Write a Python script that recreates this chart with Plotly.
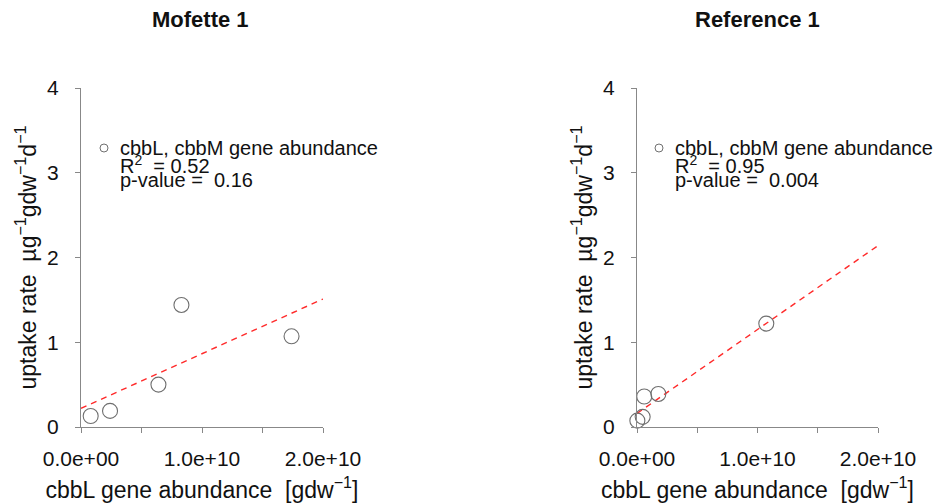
import plotly.graph_objects as go

# ---- data ----
panel_titles = ["Mofette 1", "Reference 1"]
mofette_x = [0.08e10, 0.24e10, 0.64e10, 0.83e10, 1.74e10]
mofette_y = [0.13, 0.19, 0.50, 1.44, 1.07]
reference_x = [0.003e10, 0.047e10, 0.06e10, 0.177e10, 1.073e10]
reference_y = [0.075, 0.12, 0.36, 0.39, 1.22]
fit_intercept = [0.22, 0.16]
fit_slope = [(1.51 - 0.22) / 2e10, (2.14 - 0.16) / 2e10]
fit_x_span = [0, 2e10]
r2_values = ["0.52", "0.95"]
p_values = ["0.16", "0.004"]
legend_label = "cbbL, cbbM gene abundance"
x_tickvals = [0, 0.5e10, 1.0e10, 1.5e10, 2.0e10]
x_ticktext = ["0.0e+00", "", "1.0e+10", "", "2.0e+10"]
y_tickvals = [0, 1, 2, 3, 4]

FONT = "Liberation Sans, Arial, sans-serif"
W, H = 934, 504

fig = go.Figure()

xs_all = [mofette_x, reference_x]
ys_all = [mofette_y, reference_y]
x_domains = [[81 / W, 323 / W], [637 / W, 878 / W]]
y_domain = [(H - 427) / H, (H - 88) / H]

for i in range(2):
    xa = "x" if i == 0 else "x2"
    ya = "y" if i == 0 else "y2"
    fx = fit_x_span
    fy = [fit_intercept[i] + fit_slope[i] * v for v in fx]
    fig.add_trace(go.Scatter(x=fx, y=fy, mode="lines", xaxis=xa, yaxis=ya,
                             line=dict(color="#ff2a2a", width=1.4, dash="6px,5px"),
                             showlegend=False, hoverinfo="skip"))
    fig.add_trace(go.Scatter(x=xs_all[i], y=ys_all[i], mode="markers", xaxis=xa, yaxis=ya,
                             marker=dict(symbol="circle-open", size=15, color="#6e6e6e",
                                         line=dict(width=1.1, color="#6e6e6e")),
                             showlegend=False, cliponaxis=False))

axis_common = dict(showgrid=False, zeroline=False, showline=True, linecolor="#888888",
                   linewidth=1, ticks="outside", tickcolor="#888888", automargin=False,
                   ticklen=5, tickfont=dict(family=FONT, size=21, color="#111"))

xtitle = "cbbL gene abundance  [gdw<sup>−1</sup>]"
ytitle = "uptake rate  µg<sup>−1</sup>gdw<sup>−1</sup>d<sup>−1</sup>"
tfont = dict(family=FONT, size=23, color="#111")

fig.update_layout(
    width=W, height=H, paper_bgcolor="white", plot_bgcolor="white",
    margin=dict(l=0, r=0, t=0, b=0, autoexpand=False),
    xaxis=dict(domain=x_domains[0], range=[0, 2e10], anchor="y", tickvals=x_tickvals,
               ticktext=x_ticktext, ticklabelstandoff=8,
               title=dict(text=xtitle, standoff=12, font=tfont), **axis_common),
    yaxis=dict(domain=y_domain, range=[0, 4], anchor="x", tickvals=y_tickvals,
               ticklabelstandoff=12,
               title=dict(text=ytitle, standoff=4, font=tfont), **axis_common),
    xaxis2=dict(domain=x_domains[1], range=[0, 2e10], anchor="y2", tickvals=x_tickvals,
                ticktext=x_ticktext, ticklabelstandoff=8,
                title=dict(text=xtitle, standoff=12, font=tfont), **axis_common),
    yaxis2=dict(domain=y_domain, range=[0, 4], anchor="x2", tickvals=y_tickvals,
                ticklabelstandoff=12,
                title=dict(text=ytitle, standoff=4, font=tfont), **axis_common),
    showlegend=False,
)

title_x = [200, 757]
legend_marker_x = [104, 659]
legend_text_x = [118, 673]
ann = []
for i in range(2):
    ann.append(dict(text="<b>" + panel_titles[i] + "</b>", x=title_x[i] / W, y=(H - 20) / H,
                    xref="paper", yref="paper", showarrow=False, xanchor="center", yanchor="middle",
                    font=dict(family=FONT, size=22, color="#111")))
    ann.append(dict(text=legend_label, x=legend_text_x[i] / W, y=(H - 148) / H,
                    xref="paper", yref="paper", showarrow=False, xanchor="left", yanchor="middle",
                    font=dict(family=FONT, size=20, color="#111")))
    ann.append(dict(text="R<sup>2</sup>  = " + r2_values[i], x=legend_text_x[i] / W, y=(H - 165) / H,
                    xref="paper", yref="paper", showarrow=False, xanchor="left", yanchor="middle",
                    font=dict(family=FONT, size=20, color="#111")))
    ann.append(dict(text="p-value =  " + p_values[i], x=legend_text_x[i] / W, y=(H - 180) / H,
                    xref="paper", yref="paper", showarrow=False, xanchor="left", yanchor="middle",
                    font=dict(family=FONT, size=20, color="#111")))
fig.update_layout(annotations=ann)

shapes = []
for i in range(2):
    shapes.append(dict(type="circle", xref="paper", yref="paper",
                       x0=(legend_marker_x[i] - 4) / W, x1=(legend_marker_x[i] + 4) / W,
                       y0=(H - 152) / H, y1=(H - 144) / H,
                       line=dict(color="#707070", width=1)))
fig.update_layout(shapes=shapes)

fig.write_html("out.html", config={"displayModeBar": False},
               post_script="document.body.style.margin='0';document.body.style.overflow='hidden';")
